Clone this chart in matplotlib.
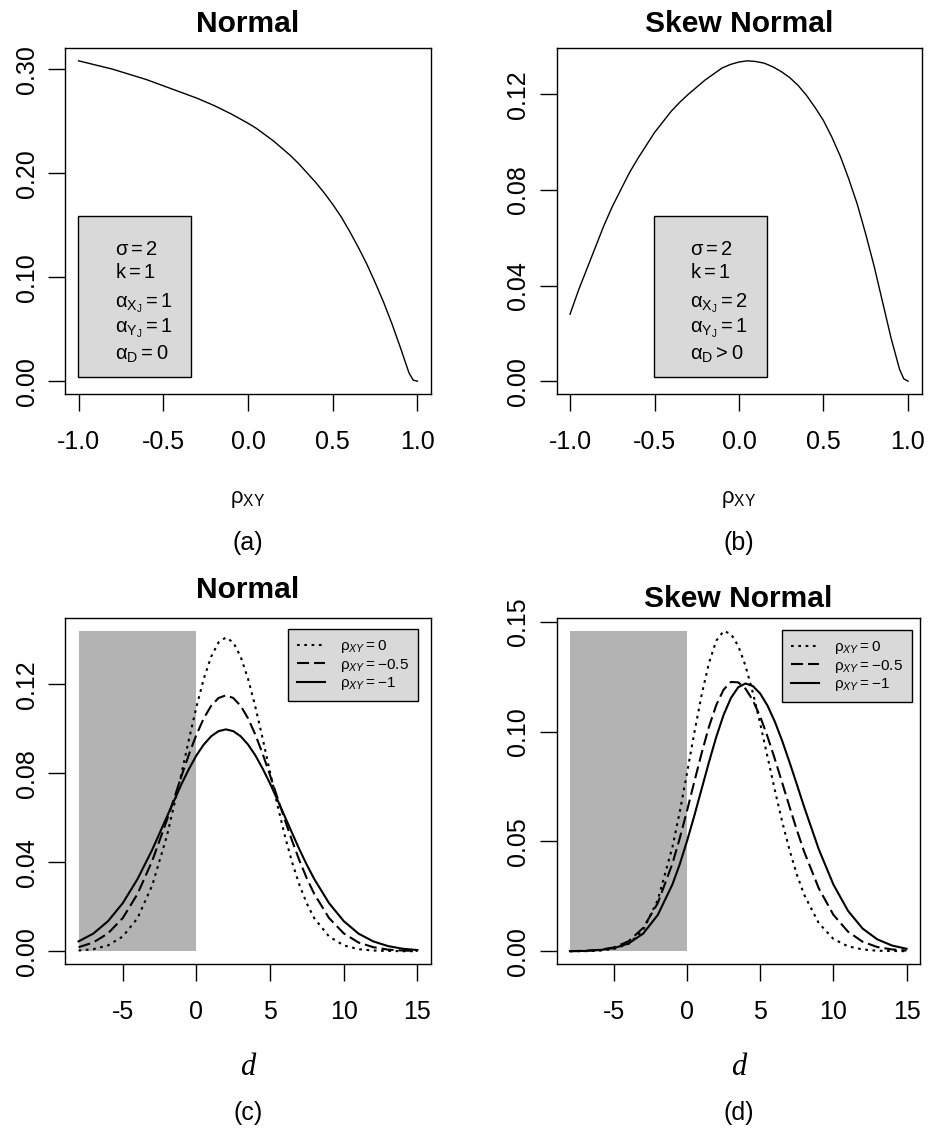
import matplotlib
matplotlib.use("Agg")
import matplotlib.pyplot as plt
from matplotlib.patches import Rectangle

plt.rcParams['font.family'] = ['Liberation Sans', 'DejaVu Sans']
plt.rcParams['mathtext.fontset'] = 'custom'
plt.rcParams['mathtext.rm'] = 'Liberation Sans'
plt.rcParams['mathtext.it'] = 'Liberation Sans:italic'
plt.rcParams['mathtext.bf'] = 'Liberation Sans:bold'
plt.rcParams['axes.unicode_minus'] = False

# ---- values ----
rho_grid = [-1.0, -0.95, -0.9, -0.85, -0.8, -0.75, -0.7, -0.65, -0.6, -0.55, -0.5,
            -0.45, -0.4, -0.35, -0.3, -0.25, -0.2, -0.15, -0.1, -0.05, 0.0,
            0.05, 0.1, 0.15, 0.2, 0.25, 0.3, 0.35, 0.4, 0.45, 0.5,
            0.55, 0.6, 0.65, 0.7, 0.75, 0.8, 0.85, 0.9, 0.95, 0.975, 1.0]
normal_vs_rho = [0.308, 0.306, 0.304, 0.302, 0.300, 0.2975, 0.295, 0.2925, 0.290, 0.287, 0.284,
                 0.281, 0.278, 0.275, 0.272, 0.2685, 0.265, 0.261, 0.257, 0.2525, 0.248,
                 0.243, 0.237, 0.231, 0.224, 0.217, 0.209, 0.200, 0.191, 0.181, 0.170,
                 0.158, 0.144, 0.129, 0.113, 0.095, 0.076, 0.055, 0.032, 0.008, 0.001, 0.0]
skew_vs_rho = [0.028, 0.038, 0.047, 0.056, 0.065, 0.073, 0.080, 0.087, 0.093, 0.0985, 0.104,
               0.1085, 0.113, 0.1167, 0.120, 0.123, 0.126, 0.1285, 0.131, 0.1325, 0.1335,
               0.134, 0.1337, 0.133, 0.1315, 0.1295, 0.127, 0.1237, 0.1195, 0.1145, 0.109,
               0.102, 0.094, 0.0845, 0.074, 0.0615, 0.048, 0.033, 0.018, 0.005, 0.001, 0.0]

d_grid = [-8, -7, -6, -5, -4, -3, -2, -1,
          -0.5, 0, 0.5, 1, 1.5, 2, 2.5, 3, 3.5, 4, 4.5, 5, 5.5, 6, 6.5, 7, 7.5,
          8, 9, 10, 11, 12, 13, 14, 15]

normal_d_rho0 = [0.0003, 0.0009, 0.0026, 0.0066, 0.0148, 0.0296, 0.0519, 0.0803,
                 0.0954, 0.1098, 0.1225, 0.1324, 0.1388, 0.141, 0.1388, 0.1324, 0.1225,
                 0.1098, 0.0954, 0.0803, 0.0656, 0.0519, 0.0398, 0.0296, 0.0213,
                 0.0148, 0.0066, 0.0026, 0.0009, 0.0003, 0.0001, 0.0, 0.0]
normal_d_rho05 = [0.0018, 0.0039, 0.0080, 0.0149, 0.0257, 0.0406, 0.0590, 0.0790,
                  0.0886, 0.0973, 0.1047, 0.1103, 0.1138, 0.115, 0.1138, 0.1103, 0.1047,
                  0.0973, 0.0886, 0.0790, 0.0690, 0.0590, 0.0495, 0.0406, 0.0326,
                  0.0257, 0.0149, 0.0080, 0.0039, 0.0018, 0.0007, 0.0003, 0.0001]
normal_d_rho1 = [0.0044, 0.0079, 0.0135, 0.0216, 0.0324, 0.0456, 0.0605, 0.0753,
                 0.0820, 0.0880, 0.0929, 0.0966, 0.0989, 0.0997, 0.0989, 0.0966, 0.0929,
                 0.0880, 0.0820, 0.0753, 0.0680, 0.0605, 0.0530, 0.0456, 0.0387,
                 0.0324, 0.0216, 0.0135, 0.0079, 0.0044, 0.0023, 0.0011, 0.0005]

skew_d_rho0 = [0.0, 0.0, 0.0002, 0.0010, 0.0033, 0.0096, 0.0233, 0.0474,
               0.0634, 0.0812, 0.0996, 0.1169, 0.1314, 0.1415, 0.1459, 0.1446, 0.1391,
               0.1300, 0.1178, 0.1037, 0.0886, 0.0734, 0.0591, 0.0462, 0.0350,
               0.0258, 0.0128, 0.0056, 0.0022, 0.0008, 0.0002, 0.0001, 0.0]
skew_d_rho05 = [0.0, 0.0002, 0.0006, 0.0017, 0.0045, 0.0106, 0.0219, 0.0399,
                0.0514, 0.0640, 0.0773, 0.0903, 0.1023, 0.1122, 0.1192, 0.1227, 0.1225,
                0.1196, 0.1143, 0.1069, 0.0978, 0.0876, 0.0768, 0.0659, 0.0553,
                0.0454, 0.0287, 0.0166, 0.0089, 0.0043, 0.0019, 0.0008, 0.0003]
skew_d_rho1 = [0.0, 0.0001, 0.0005, 0.0014, 0.0035, 0.0080, 0.0165, 0.0304,
               0.0396, 0.0502, 0.0618, 0.0740, 0.0862, 0.0977, 0.1077, 0.1154, 0.1203,
               0.1220, 0.1208, 0.1174, 0.1119, 0.1046, 0.0959, 0.0862, 0.0761,
               0.0658, 0.0465, 0.0304, 0.0184, 0.0103, 0.0054, 0.0026, 0.0011]

rho_levels = [0, -0.5, -1]
shade_x = [-8, 0]
shade_top_normal = 0.144
shade_top_skew = 0.146

params_normal = [r'$\mathrm{\sigma = 2}$', r'$\mathrm{k = 1}$',
                 r'$\mathrm{\alpha_{X_J} = 1}$', r'$\mathrm{\alpha_{Y_J} = 1}$',
                 r'$\mathrm{\alpha_D = 0}$']
params_skew = [r'$\mathrm{\sigma = 2}$', r'$\mathrm{k = 1}$',
               r'$\mathrm{\alpha_{X_J} = 2}$', r'$\mathrm{\alpha_{Y_J} = 1}$',
               r'$\mathrm{\alpha_D > 0}$']

rho_ticks = [-1.0, -0.5, 0.0, 0.5, 1.0]
d_ticks = [-5, 0, 5, 10, 15]
yticks_a = [0.0, 0.1, 0.2, 0.3]
yticks_b = [0.0, 0.04, 0.08, 0.12]
yticks_c = [0.0, 0.04, 0.08, 0.12]
yticks_d = [0.0, 0.05, 0.10, 0.15]

W, H = 930, 1131
fig = plt.figure(figsize=(W / 100, H / 100), dpi=100)


def px_axes(left, top, right, bottom):
    return fig.add_axes([left / W, 1 - bottom / H, (right - left) / W, (bottom - top) / H])


def r_range(vals):
    # R's default 4% extension of the data range
    lo, hi = min(vals), max(vals)
    pad = 0.04 * (hi - lo)
    return lo - pad, hi + pad


def r_style(ax, xticks, yticks, xfmt, yfmt):
    ax.set_xticks(xticks)
    ax.set_xticklabels([xfmt.format(t) for t in xticks])
    ax.set_yticks(yticks)
    ax.set_yticklabels([yfmt.format(t) for t in yticks])
    for s in ax.spines.values():
        s.set_linewidth(1.0)
    ax.tick_params(direction='out', length=12, width=1.0, labelsize=18, color='black')
    ax.tick_params(axis='x', pad=14)
    ax.tick_params(axis='y', pad=7, labelrotation=90)
    plt.setp(ax.get_yticklabels(), va='center')


def param_box(ax, x0, lines):
    ax.add_patch(Rectangle((x0, 0.049), 0.309, 0.465, transform=ax.transAxes,
                           facecolor='#d9d9d9', edgecolor='black', lw=1.0, zorder=3))
    baselines = [0.402, 0.335, 0.251, 0.179, 0.098]
    for txt, yb in zip(lines, baselines):
        ax.text(x0 + 0.1, yb, txt, transform=ax.transAxes, fontsize=14.5,
                va='baseline', ha='left', zorder=4)


def labels_below(ax, xlab, tag, serif=False):
    if serif:
        ax.text(0.5, -0.321, xlab, transform=ax.transAxes, ha='center', va='baseline',
                fontsize=22, family='Liberation Serif', style='italic')
    else:
        ax.text(0.5, -0.315, xlab, transform=ax.transAxes, ha='center', va='baseline',
                fontsize=16)
    ax.text(0.5, -0.451, tag, transform=ax.transAxes, ha='center', va='baseline', fontsize=18)


ax_a = px_axes(65, 48, 431, 394)
ax_b = px_axes(556.5, 48, 921.5, 394)
ax_c = px_axes(65, 618, 431, 964)
ax_d = px_axes(556.5, 618, 920, 964)

# (a) and (b): density vs rho
for ax, vals, title, params, yt, tag, box_x in [
        (ax_a, normal_vs_rho, 'Normal', params_normal, yticks_a, '(a)', 0.0355),
        (ax_b, skew_vs_rho, 'Skew Normal', params_skew, yticks_b, '(b)', 0.267)]:
    ax.plot(rho_grid, vals, color='black', lw=1.0)
    ax.set_xlim(r_range(rho_grid))
    ax.set_ylim(r_range([0] + vals))
    r_style(ax, rho_ticks, yt, '{:.1f}', '{:.2f}')
    ax.set_title(title, fontsize=21.6, fontweight='bold', pad=11.5)
    param_box(ax, box_x, params)
    labels_below(ax, r'$\mathrm{\rho_{XY}}$', tag)

# (c) and (d): density of d
line_styles = [dict(dashes=(1.3, 2.2)), dict(dashes=(5.8, 2.4)), dict(linestyle='-')]
for ax, series, shade_top, title, yt, tag, pad, leg_anchor in [
        (ax_c, [normal_d_rho0, normal_d_rho05, normal_d_rho1], shade_top_normal,
         'Normal', yticks_c, '(c)', 14.4, (0.9645, 0.968)),
        (ax_d, [skew_d_rho0, skew_d_rho05, skew_d_rho1], shade_top_skew,
         'Skew Normal', yticks_d, '(d)', 8.0, (0.978, 0.965))]:
    ax.fill_between(shade_x, 0, shade_top, color='#b3b3b3', lw=0, zorder=1)
    for vals, st, lvl in zip(series, line_styles, rho_levels):
        ax.plot(d_grid, vals, color='black', lw=1.5, zorder=2,
                label='$\\mathrm{{\\rho}}_{{XY}} = {:g}$'.format(lvl), **st)
    ax.set_xlim(r_range(d_grid))
    ax.set_ylim(r_range([0, shade_top]))
    r_style(ax, d_ticks, yt, '{:d}', '{:.2f}')
    ax.set_title(title, fontsize=21.6, fontweight='bold', pad=pad)
    leg = ax.legend(loc='upper right', bbox_to_anchor=leg_anchor, borderaxespad=0,
                    fancybox=False, facecolor='#d9d9d9', edgecolor='black', framealpha=1,
                    fontsize=11, handlelength=1.8, handletextpad=1.0, borderpad=0.6,
                    labelspacing=0.1)
    leg.get_frame().set_linewidth(1.0)
    labels_below(ax, 'd', tag, serif=True)

fig.savefig('out.png', dpi=100)
